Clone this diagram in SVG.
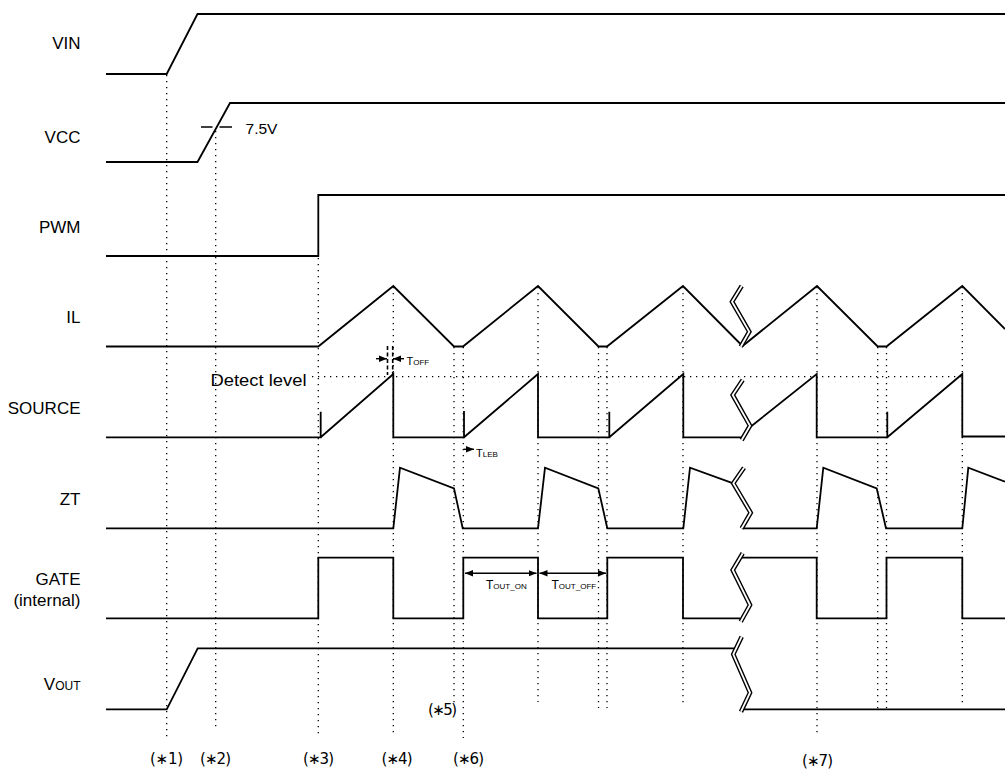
<svg xmlns="http://www.w3.org/2000/svg" width="1005" height="769" viewBox="0 0 1005 769">
<defs>
<marker id="ah" viewBox="0 0 8 8" refX="8" refY="4" markerWidth="8" markerHeight="8" markerUnits="userSpaceOnUse" orient="auto-start-reverse"><path d="M0,0.8 L8,4 L0,7.2 Z" fill="#000"/></marker>
</defs>
<style>
.w{fill:none;stroke:#000;stroke-width:1.8;stroke-linejoin:miter}
.d{fill:none;stroke:#000;stroke-width:1.3;stroke-dasharray:1.3 4.7}
.dash{fill:none;stroke:#000;stroke-width:1.6;stroke-dasharray:4 2.5}
.bk{fill:none;stroke:#000;stroke-width:4.6}
.bw{fill:none;stroke:#fff;stroke-width:1.8}
.a{fill:none;stroke:#000;stroke-width:1.4}
.lb{font-family:"Liberation Sans",Arial,sans-serif;font-size:17px;fill:#000;text-anchor:end}
.t{font-family:"Liberation Sans",Arial,sans-serif;fill:#000}
.n{font-family:"DejaVu Sans","Liberation Sans",sans-serif;font-size:15px;fill:#000}
</style>
<rect width="1005" height="769" fill="#fff"/>

<g id="guides">
<path class="d" d="M166.7,75V738 M215.7,131V730 M318.3,258V735 M393.3,287V735 M454,347V703 M463.3,347V738 M538,287V702 M598.5,347V708 M607,347V708 M683,287V703 M817,287V735 M877.7,347V709 M886.5,347V709 M962.3,287V705"/>
<path class="d" d="M312,376.7H966"/>
</g>

<g id="VIN">
<text class="lb" x="80.5" y="48.5">VIN</text>
<path class="w" d="M106,74H166.7L197.5,14H1005"/>
</g>

<g id="VCC">
<text class="lb" x="80.5" y="142.7">VCC</text>
<path class="w" d="M106,162H197.5L230,103H1005"/>
<path class="a" d="M201,127H212.5 M219.5,127H232"/>
<text class="t" x="245.5" y="134" font-size="15" textLength="32" lengthAdjust="spacingAndGlyphs">7.5V</text>
</g>

<g id="PWM">
<text class="lb" x="80.5" y="232.7">PWM</text>
<path class="w" d="M106,256H318.3V195H1005"/>
</g>

<g id="IL">
<text class="lb" x="80.5" y="323.3">IL</text>
<path class="w" d="M106,346.5H318.3L393.3,286L454,346.5H463L538,286L598.5,346.5H607L683,286L740,343.5"/>
<path class="w" d="M742,346.5L817,286L877.7,346.5H886.5L962.3,286L1005,329"/>
<path class="bk" d="M741.7,286L732,301.7L749.3,331.7L740.7,346.7"/>
<path class="bw" d="M741.7,286L732,301.7L749.3,331.7L740.7,346.7"/>
</g>

<g id="SOURCE">
<text class="lb" x="80.5" y="414">SOURCE</text>
<text class="t" x="210.5" y="386" font-size="16" textLength="96" lengthAdjust="spacingAndGlyphs">Detect level</text>
<path class="w" d="M106,437.3H320.7V411.7 M320.7,437.3L393.3,374V437.3H464V411 M464,437.3L538,374V437.3H609.3V411.7 M609.3,437.3L683.3,374V437.3H741"/>
<path class="w" d="M749,428L816.7,374V437.3H887.3V411.7 M887.3,437.3L962.3,374V436.5H1005"/>
<path class="bk" d="M742.7,380L732.7,395L750,425.7L741.7,440"/>
<path class="bw" d="M742.7,380L732.7,395L750,425.7L741.7,440"/>
<path class="dash" d="M387.5,346V375 M392.7,346V375"/>
<path class="a" d="M376,358.7H387" marker-end="url(#ah)"/>
<path class="a" d="M404,358.7H393" marker-end="url(#ah)"/>
<text class="t" x="406.5" y="365" font-size="11">T<tspan font-size="8">OFF</tspan></text>
<path class="a" d="M463.5,449.3H474" marker-end="url(#ah)"/>
<text class="t" x="476" y="456.5" font-size="11">T<tspan font-size="8">LEB</tspan></text>
</g>

<g id="ZT">
<text class="lb" x="80.5" y="505">ZT</text>
<path class="w" d="M106,528.3H393.3L400,467.7L454,488.3L462.7,528.3H538L545,467.7L598.3,488.3L607.3,528.3H683.3L690,467.7L733.3,483.3"/>
<path class="w" d="M742,528.3H816.7L823.3,467.7L876.7,488.3L886,528.3H962.3L968.3,467.7L1005,481.7"/>
<path class="bk" d="M744,467.7L733.3,483.3L750.7,512.7L741.7,528.3"/>
<path class="bw" d="M744,467.7L733.3,483.3L750.7,512.7L741.7,528.3"/>
</g>

<g id="GATE">
<text class="lb" x="80.5" y="585">GATE</text>
<text class="lb" x="80.5" y="606">(internal)</text>
<path class="w" d="M106,618.3H318.3V557.7H393.3V618.3H463.3V557.7H538V618.3H607.3V557.7H683V618.3H740"/>
<path class="w" d="M742,557.7H816.7V618.3H886.5V557.7H962.3V618.3H1005"/>
<path class="bk" d="M742.7,553.3L732.7,570L750,605L740.7,621.7"/>
<path class="bw" d="M742.7,553.3L732.7,570L750,605L740.7,621.7"/>
<path class="a" d="M465,573.3H536.5" marker-start="url(#ah)" marker-end="url(#ah)"/>
<path class="a" d="M539.5,573.3H606" marker-start="url(#ah)" marker-end="url(#ah)"/>
<text class="t" x="486" y="589" font-size="12">T<tspan font-size="8">OUT_ON</tspan></text>
<text class="t" x="551.5" y="589" font-size="12">T<tspan font-size="8">OUT_OFF</tspan></text>
</g>

<g id="VOUT">
<text class="lb" x="80.5" y="690">V<tspan font-size="12">OUT</tspan></text>
<path class="w" d="M106,709.3H166.7L197.7,648.3H735"/>
<path class="w" d="M742,709.3H1005"/>
<path class="bk" d="M741.7,636.7L733.3,654.3L750,692.7L741,711.7"/>
<path class="bw" d="M741.7,636.7L733.3,654.3L750,692.7L741,711.7"/>
</g>

<g id="markers">
<text class="n" x="150" y="764" textLength="33" lengthAdjust="spacing">(∗1)</text>
<text class="n" x="200" y="764" textLength="31" lengthAdjust="spacing">(∗2)</text>
<text class="n" x="303" y="764" textLength="31" lengthAdjust="spacing">(∗3)</text>
<text class="n" x="381.5" y="764" textLength="31" lengthAdjust="spacing">(∗4)</text>
<text class="n" x="428" y="715" textLength="29" lengthAdjust="spacing">(∗5)</text>
<text class="n" x="453" y="764" textLength="31" lengthAdjust="spacing">(∗6)</text>
<text class="n" x="802" y="766" textLength="31" lengthAdjust="spacing">(∗7)</text>
</g>
</svg>
